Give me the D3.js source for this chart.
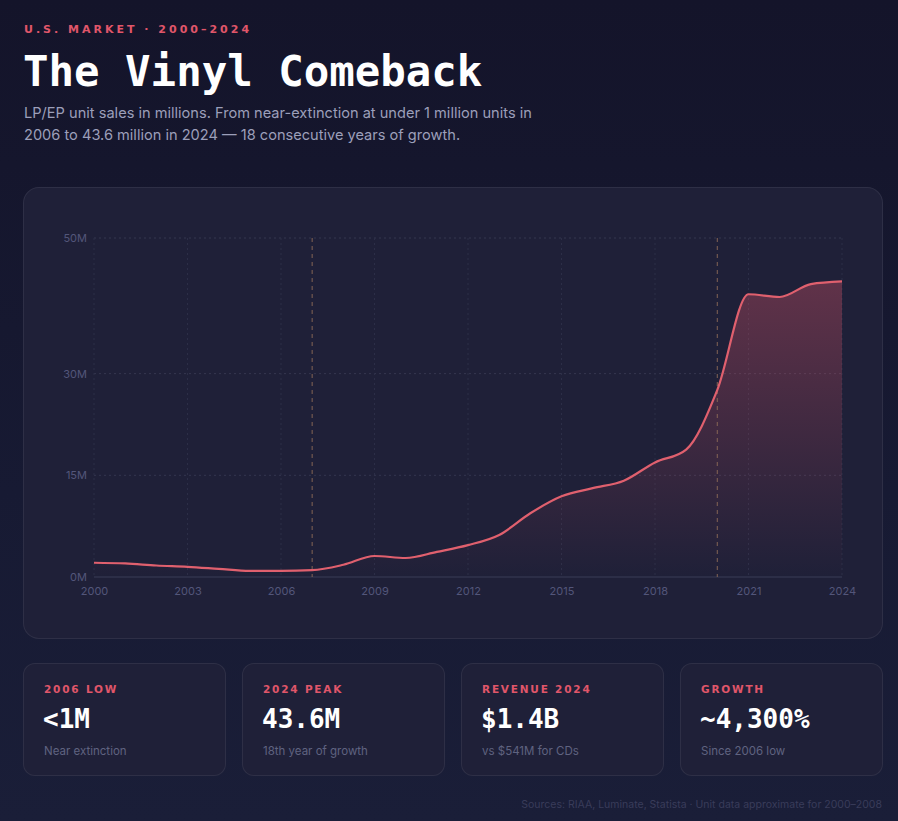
<!DOCTYPE html>
<html lang="en">
<head>
<meta charset="UTF-8">
<title>The Vinyl Comeback</title>
<script src="https://d3js.org/d3.v7.min.js"></script>
<style>
  html, body { margin: 0; padding: 0; }
  body {
    width: 898px; height: 821px; overflow: hidden;
    background: linear-gradient(180deg, #14142a 0%, #171a33 60%, #1a1e38 100%);
    font-family: Inter, "Noto Sans", sans-serif;
    position: relative;
  }
  .eyebrow {
    position: absolute; left: 24px; top: 23px;
    color: #e0566a; font-size: 11px; font-weight: 700; letter-spacing: 3px;
    font-family: "DejaVu Sans", sans-serif;
  }
  h1 {
    position: absolute; left: 23px; top: 46px; margin: 0;
    color: #ffffff; font-family: "DejaVu Sans Mono", monospace; font-weight: 700;
    font-size: 42.4px; line-height: 52px; letter-spacing: 0px;
  }
  .sub {
    position: absolute; left: 24px; top: 102px; width: 540px;
    color: #9c9fba; font-size: 14.6px; line-height: 22px; margin: 0;
  }
  .card {
    position: absolute; box-sizing: border-box;
    background: #1f2038; border: 1px solid rgba(255,255,255,0.07); border-radius: 16px;
  }
  #chart { left: 23px; top: 187px; width: 860px; height: 452px; }
  .stat { top: 663px; width: 203px; height: 113px; border-radius: 12px; }
  .stat .lab {
    position: absolute; left: 20px; top: 19px; color: #e0566a; font-size: 10.5px;
    font-weight: 700; letter-spacing: 1.8px; font-family: "DejaVu Sans", sans-serif;
  }
  .stat .val {
    position: absolute; left: 19px; top: 40px; color: #fff; font-size: 26px; font-weight: 700;
    font-family: "DejaVu Sans Mono", monospace;
  }
  .stat .note {
    position: absolute; left: 20px; top: 80px; color: #5f6380; font-size: 11.5px;
  }
  .foot {
    position: absolute; right: 16px; top: 798px; color: #393c5a; font-size: 10.5px;
  }
  svg { position: absolute; left: 0; top: 0; }
</style>
</head>
<body>
<div class="eyebrow">U.S. MARKET · 2000–2024</div>
<h1>The Vinyl Comeback</h1>
<p class="sub">LP/EP unit sales in millions. From near-extinction at under 1 million units in 2006 to 43.6 million in 2024 — 18 consecutive years of growth.</p>

<div class="card" id="chart"></div>
<div id="stats"></div>
<div class="foot">Sources: RIAA, Luminate, Statista · Unit data approximate for 2000–2008</div>

<script>
// LP/EP units, millions
const years = [2000, 2001, 2002, 2003, 2004, 2005, 2006, 2007, 2008, 2009, 2010, 2011, 2012,
               2013, 2014, 2015, 2016, 2017, 2018, 2019, 2020, 2021, 2022, 2023, 2024];
const units = [2.1, 2.0, 1.7, 1.5, 1.2, 0.9, 0.9, 1.0, 1.8, 3.1, 2.8, 3.7, 4.7,
               6.2, 9.4, 11.9, 13.1, 14.2, 16.9, 18.8, 27.6, 41.7, 41.3, 43.2, 43.6];
const yTicks = [0, 15, 30, 50];
const xTicks = [2000, 2003, 2006, 2009, 2012, 2015, 2018, 2021, 2024];
const markerYears = [2007, 2020];

const statLabels = ["2006 LOW", "2024 PEAK", "REVENUE 2024", "GROWTH"];
const statValues = ["<1M", "43.6M", "$1.4B", "~4,300%"];
const statNotes = ["Near extinction", "18th year of growth", "vs $541M for CDs", "Since 2006 low"];

const data = years.map((y, i) => ({ year: y, v: units[i] }));

// stat cards
const stats = d3.select("#stats").selectAll("div")
  .data(statLabels)
  .join("div")
  .attr("class", "card stat")
  .style("left", (d, i) => (23 + i * 219) + "px");
stats.append("div").attr("class", "lab").text(d => d);
stats.append("div").attr("class", "val").text((d, i) => statValues[i]);
stats.append("div").attr("class", "note").text((d, i) => statNotes[i]);

// chart
const W = 898, H = 821;
const margin = { top: 238, right: 56, bottom: 244, left: 94 };
const width = W - margin.left - margin.right,
      height = H - margin.top - margin.bottom;

const svg = d3.select("body").append("svg")
  .attr("width", W).attr("height", H);

const defs = svg.append("defs");
const grad = defs.append("linearGradient")
  .attr("id", "fillGrad").attr("x1", 0).attr("y1", 0).attr("x2", 0).attr("y2", 1);
grad.append("stop").attr("offset", "0%").attr("stop-color", "#e0566a").attr("stop-opacity", 0.34);
grad.append("stop").attr("offset", "100%").attr("stop-color", "#e0566a").attr("stop-opacity", 0.0);

const g = svg.append("g").attr("transform", `translate(${margin.left},${margin.top})`);

const x = d3.scaleLinear().domain([2000, 2024]).range([0, width]);
const y = d3.scaleLinear().domain([0, 50]).range([height, 0]);

// grid
g.append("g")
  .selectAll("line.hgrid")
  .data(yTicks.filter(d => d > 0))
  .join("line")
  .attr("x1", 0).attr("x2", width)
  .attr("y1", d => y(d)).attr("y2", d => y(d))
  .attr("stroke", "#34364f").attr("stroke-width", 1).attr("stroke-dasharray", "2,3");

g.append("g")
  .selectAll("line.vgrid")
  .data(xTicks)
  .join("line")
  .attr("x1", d => x(d)).attr("x2", d => x(d))
  .attr("y1", 0).attr("y2", height)
  .attr("stroke", "#2c2e47").attr("stroke-width", 1).attr("stroke-dasharray", "2,3");

// baseline
g.append("line")
  .attr("x1", 0).attr("x2", width)
  .attr("y1", y(0)).attr("y2", y(0))
  .attr("stroke", "#3a3c56").attr("stroke-width", 1);

// area + line
const area = d3.area()
  .x(d => x(d.year)).y0(y(0)).y1(d => y(d.v))
  .curve(d3.curveMonotoneX);
const line = d3.line()
  .x(d => x(d.year)).y(d => y(d.v))
  .curve(d3.curveMonotoneX);

g.append("path").datum(data).attr("d", area).attr("fill", "url(#fillGrad)");

// marker lines
g.append("g")
  .selectAll("line")
  .data(markerYears)
  .join("line")
  .attr("x1", d => x(d)).attr("x2", d => x(d))
  .attr("y1", 0).attr("y2", height)
  .attr("stroke", "#8f6c58").attr("stroke-opacity", 0.75)
  .attr("stroke-width", 1.2).attr("stroke-dasharray", "4,4");

g.append("path").datum(data).attr("d", line)
  .attr("fill", "none").attr("stroke", "#e0606e").attr("stroke-width", 2.2)
  .attr("stroke-linejoin", "round");

// axes
const axisFont = "Inter, 'Noto Sans', sans-serif";
const yAxis = g.append("g")
  .call(d3.axisLeft(y).tickValues(yTicks).tickSize(0).tickPadding(7).tickFormat(d => d + "M"));
yAxis.select(".domain").remove();
yAxis.selectAll("text").attr("fill", "#53567a").attr("font-size", 11).attr("font-family", axisFont);

const xAxis = g.append("g")
  .attr("transform", `translate(0,${height})`)
  .call(d3.axisBottom(x).tickValues(xTicks).tickSize(0).tickPadding(10).tickFormat(d3.format("d")));
xAxis.select(".domain").remove();
xAxis.selectAll("text").attr("fill", "#53567a").attr("font-size", 11).attr("font-family", axisFont);
</script>
</body>
</html>
